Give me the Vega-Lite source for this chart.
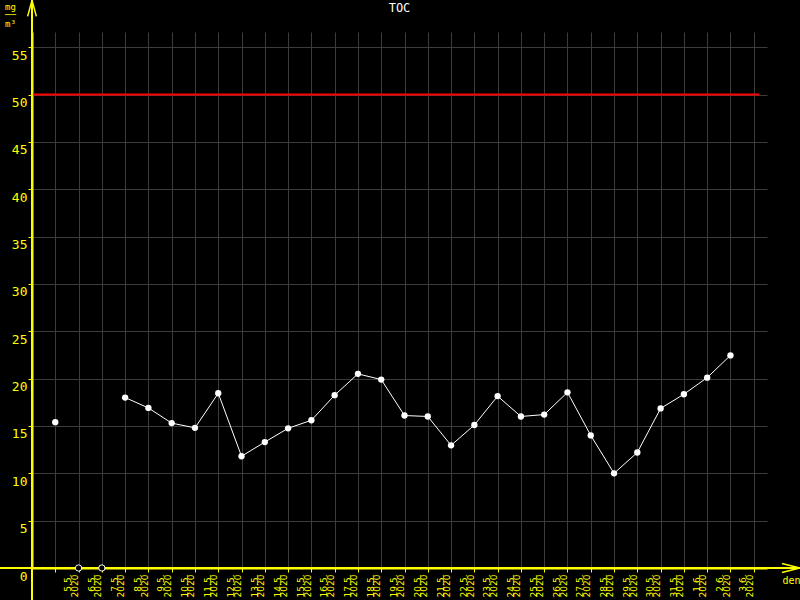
{
  "$schema": "https://vega.github.io/schema/vega-lite/v6.json",
  "width": 735,
  "height": 536,
  "autosize": "none",
  "padding": {"left": 32, "top": 32, "right": 33, "bottom": 32},
  "background": "#000000",
  "title": {"text": "TOC", "color": "#ffffff", "font": "DejaVu Sans Mono", "fontSize": 12, "fontWeight": "normal", "offset": -18, "anchor": "middle"},
  "config": {"view": {"stroke": null}},
  "data": {"values": [
    {"date": "2020-05-05", "v": 15.4},
    {"date": "2020-05-06", "v": null},
    {"date": "2020-05-07", "v": null},
    {"date": "2020-05-08", "v": 18.0},
    {"date": "2020-05-09", "v": 16.9},
    {"date": "2020-05-10", "v": 15.3},
    {"date": "2020-05-11", "v": 14.8},
    {"date": "2020-05-12", "v": 18.45},
    {"date": "2020-05-13", "v": 11.8},
    {"date": "2020-05-14", "v": 13.3},
    {"date": "2020-05-15", "v": 14.75},
    {"date": "2020-05-16", "v": 15.6},
    {"date": "2020-05-17", "v": 18.25},
    {"date": "2020-05-18", "v": 20.5},
    {"date": "2020-05-19", "v": 19.9},
    {"date": "2020-05-20", "v": 16.1},
    {"date": "2020-05-21", "v": 16.0},
    {"date": "2020-05-22", "v": 12.95},
    {"date": "2020-05-23", "v": 15.1},
    {"date": "2020-05-24", "v": 18.15},
    {"date": "2020-05-25", "v": 16.0},
    {"date": "2020-05-26", "v": 16.2},
    {"date": "2020-05-27", "v": 18.55},
    {"date": "2020-05-28", "v": 14.0},
    {"date": "2020-05-29", "v": 10.0},
    {"date": "2020-05-30", "v": 12.2},
    {"date": "2020-05-31", "v": 16.85},
    {"date": "2020-06-01", "v": 18.35},
    {"date": "2020-06-02", "v": 20.1},
    {"date": "2020-06-03", "v": 22.45}
  ]},
  "layer": [
    {
      "mark": {"type": "line", "color": "#ffffff", "strokeWidth": 1, "invalid": "break-paths-filter-domains"},
      "encoding": {
        "x": {"field": "date", "type": "temporal",
          "scale": {"type": "utc", "domain": [{"year": 2020, "month": 5, "date": 4, "utc": true}, {"year": 2020, "month": 6, "date": 4, "hours": 13, "minutes": 41, "utc": true}]},
          "axis": {
            "tickCount": {"interval": "day", "step": 1},
            "grid": true, "gridColor": "#3c3c3c", "gridWidth": 1,
            "domainColor": "#ffff00", "domainWidth": 2,
            "tickColor": "#ffff00", "tickSize": 4, "tickWidth": 1,
            "labelAngle": 270, "labelAlign": "right", "labelBaseline": "middle",
            "labelOffset": 12.5, "labelPadding": 2, "labelFlush": false, "labelOverlap": false,
            "labelFont": "DejaVu Sans", "labelFontSize": 9, "labelLineHeight": 6.5, "labelColor": "#ffff00",
            "labelExpr": "datum.value < utc(2020,4,5) || datum.value > utc(2020,5,3) ? '' : [utcFormat(datum.value, '%-d.%-m.'), '2020']",
            "title": "den", "titleX": 759, "titleY": 12, "titleAlign": "center", "titleBaseline": "middle",
            "titleColor": "#ffff00", "titleFont": "DejaVu Sans Mono", "titleFontSize": 10, "titleFontWeight": "normal",
            "zindex": 0
          }
        },
        "y": {"field": "v", "type": "quantitative",
          "scale": {"domain": [0, 56.6], "nice": false, "zero": false},
          "axis": {
            "values": [0, 5, 10, 15, 20, 25, 30, 35, 40, 45, 50, 55],
            "grid": true, "gridColor": "#3c3c3c", "gridWidth": 1,
            "domainColor": "#ffff00", "domainWidth": 2,
            "tickColor": "#ffff00", "tickSize": 4, "tickWidth": 1,
            "labelColor": "#ffff00", "labelFont": "DejaVu Sans Mono", "labelFontSize": 13,
            "labelBaseline": "top", "labelOffset": 2, "labelPadding": 1, "labelFlush": false,
            "title": ["mg", "──", "m³"], "titleAngle": 0, "titleX": -22, "titleY": -30,
            "titleAlign": "center", "titleBaseline": "top", "titleColor": "#ffff00",
            "titleFont": "DejaVu Sans Mono", "titleFontSize": 9, "titleFontWeight": "normal", "titleLineHeight": 8.5,
            "zindex": 0
          }
        }
      }
    },
    {
      "data": {"values": [{}]},
      "mark": {"type": "rule", "color": "#ff0000", "strokeWidth": 2},
      "encoding": {
        "x": {"datum": {"year": 2020, "month": 5, "date": 4, "utc": true}, "type": "temporal"},
        "x2": {"datum": {"year": 2020, "month": 6, "date": 4, "hours": 5, "minutes": 46, "utc": true}},
        "y": {"datum": 50, "type": "quantitative"}
      }
    },
    {
      "mark": {"type": "point", "shape": "circle", "filled": true, "color": "#ffffff", "opacity": 1, "size": 40},
      "transform": [{"filter": "datum.v != null"}],
      "encoding": {
        "x": {"field": "date", "type": "temporal"},
        "y": {"field": "v", "type": "quantitative"}
      }
    },
    {
      "data": {"values": [{}]},
      "mark": {"type": "rule", "color": "#ffff00", "strokeWidth": 2},
      "encoding": {
        "x": {"datum": {"year": 2020, "month": 5, "date": 4, "utc": true}, "type": "temporal"},
        "y": {"datum": -3.4, "type": "quantitative"},
        "y2": {"datum": 60}
      }
    },
    {
      "data": {"values": [{}]},
      "mark": {"type": "rule", "color": "#ffff00", "strokeWidth": 2},
      "encoding": {
        "x": {"datum": {"year": 2020, "month": 5, "date": 2, "hours": 14, "utc": true}, "type": "temporal"},
        "x2": {"datum": {"year": 2020, "month": 6, "date": 6, "utc": true}},
        "y": {"datum": 0, "type": "quantitative"}
      }
    },
    {
      "mark": {"type": "point", "shape": "circle", "filled": true, "fill": "#000000", "stroke": "#ffffff", "strokeWidth": 1, "opacity": 1, "size": 40},
      "transform": [{"filter": "datum.v == null"}],
      "encoding": {
        "x": {"field": "date", "type": "temporal"},
        "y": {"datum": 0, "type": "quantitative"}
      }
    },
    {
      "data": {"values": [{}]},
      "mark": {"type": "point", "shape": "M-0.55,1L0,-1L0.55,1", "filled": false, "stroke": "#ffff00", "strokeWidth": 1.5, "opacity": 1, "size": 256},
      "encoding": {
        "x": {"datum": {"year": 2020, "month": 5, "date": 4, "utc": true}, "type": "temporal"},
        "y": {"datum": 59.1, "type": "quantitative"}
      }
    },
    {
      "data": {"values": [{}]},
      "mark": {"type": "point", "shape": "M-1,-0.5L1,0L-1,0.5", "filled": false, "stroke": "#ffff00", "strokeWidth": 1.5, "opacity": 1, "size": 324},
      "encoding": {
        "x": {"datum": {"year": 2020, "month": 6, "date": 5, "hours": 14, "minutes": 24, "utc": true}, "type": "temporal"},
        "y": {"datum": 0, "type": "quantitative"}
      }
    }
  ]
}
